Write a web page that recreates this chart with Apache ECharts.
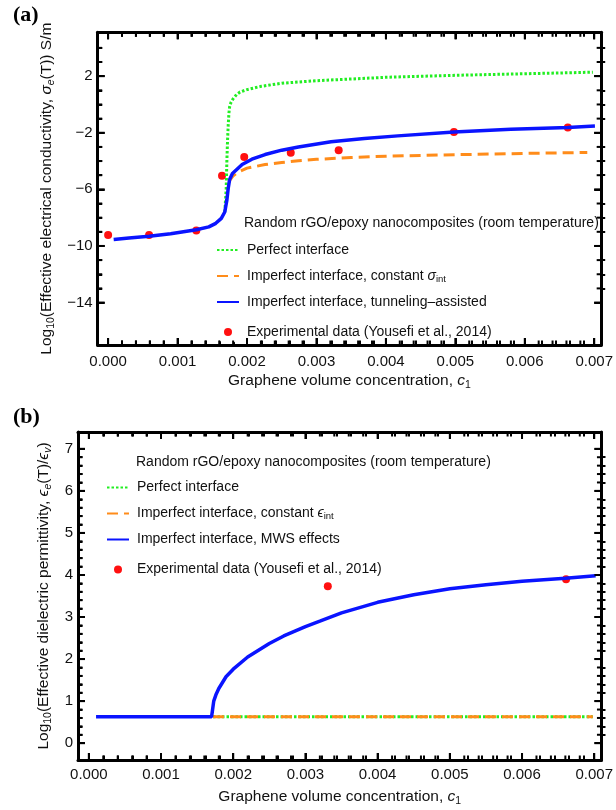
<!DOCTYPE html>
<html>
<head>
<meta charset="utf-8">
<script src="https://cdn.jsdelivr.net/npm/echarts@6/dist/echarts.min.js"></script>
<style>
html,body{margin:0;padding:0;background:#fff;}
#chart{width:616px;height:810px;}
</style>
</head>
<body>
<div id="chart"></div>
<script>
// ---------------- DATA ----------------
// Panel (a): log10 effective electrical conductivity vs graphene volume concentration
const aPerfectC   = [0.00168, 0.00170, 0.00171, 0.00172, 0.00173, 0.00174, 0.00175, 0.00177, 0.00180, 0.00185, 0.00190, 0.00200, 0.00220, 0.00250, 0.00300, 0.00350, 0.00400, 0.00500, 0.00600, 0.00698];
const aPerfectV   = [-7.6, -6.0, -4.0, -2.5, -1.4, -0.6, -0.15, 0.15, 0.4, 0.7, 0.88, 1.05, 1.28, 1.5, 1.68, 1.8, 1.92, 2.06, 2.17, 2.28];
const aConstC     = [0.00174, 0.00176, 0.00180, 0.00185, 0.00190, 0.00200, 0.00226, 0.00250, 0.00274, 0.00300, 0.00350, 0.00400, 0.00500, 0.00600, 0.00690];
const aConstV     = [-5.5, -5.3, -5.05, -4.85, -4.72, -4.5, -4.25, -4.1, -3.98, -3.88, -3.75, -3.66, -3.55, -3.46, -3.39];
const aTunnelC    = [0.00008, 0.00030, 0.00059, 0.00090, 0.00127, 0.00145, 0.00155, 0.00163, 0.00168, 0.00171, 0.00173, 0.00175, 0.00179, 0.00193, 0.00207, 0.00226, 0.00250, 0.00274, 0.00321, 0.00369, 0.00417, 0.00498, 0.00580, 0.00662, 0.00701];
const aTunnelV    = [-9.54, -9.43, -9.31, -9.13, -8.86, -8.65, -8.4, -8.05, -7.6, -6.76, -5.9, -5.3, -4.88, -4.24, -3.87, -3.54, -3.23, -3.0, -2.64, -2.4, -2.22, -1.94, -1.76, -1.63, -1.53];
const aExpC       = [0.00000, 0.00059, 0.00127, 0.00164, 0.00196, 0.00263, 0.00332, 0.00498, 0.00662];
const aExpV       = [-9.22, -9.22, -8.9, -5.04, -3.72, -3.42, -3.23, -1.94, -1.63];

// Panel (b): log10 effective dielectric permittivity vs graphene volume concentration
const bPerfectC   = [0.00172, 0.00698];
const bPerfectV   = [0.63, 0.63];
const bConstC     = [0.00172, 0.00698];
const bConstV     = [0.63, 0.63];
const bMwsC       = [0.00010, 0.00170, 0.00171, 0.00173, 0.00176, 0.00180, 0.00190, 0.00200, 0.00220, 0.00250, 0.00270, 0.00300, 0.00320, 0.00350, 0.00400, 0.00450, 0.00500, 0.00550, 0.00600, 0.00660, 0.00702];
const bMwsV       = [0.63, 0.63, 0.75, 1.0, 1.15, 1.3, 1.58, 1.76, 2.05, 2.37, 2.55, 2.77, 2.9, 3.1, 3.35, 3.53, 3.67, 3.77, 3.85, 3.92, 3.98];
const bExpC       = [0.00331, 0.00661];
const bExpV       = [3.73, 3.9];

// Tick labels
const xMajorTicks = [0, 0.001, 0.002, 0.003, 0.004, 0.005, 0.006, 0.007];
const aYMajorTicks = [-14, -10, -6, -2, 2];
const bYMajorTicks = [0, 1, 2, 3, 4, 5, 6, 7];

// ---------------- HELPERS ----------------
const F = '"Liberation Sans", Arial, Helvetica, sans-serif';
const TXT = '#111';
const zip = (xs, ys) => xs.map((x, i) => [x, ys[i]]);
const xMinorTicks = [];
for (let k = 1; k <= 34; k++) { if (k % 5 !== 0) xMinorTicks.push(+(k * 0.0002).toFixed(4)); }
const aYMinorTicks = [];
for (let v = -13; v <= 4; v++) { if (aYMajorTicks.indexOf(v) < 0) aYMinorTicks.push(v); }
const bYMinorTicks = [];
for (let k = 1; k <= 34; k++) { if (k % 5 !== 0) bYMinorTicks.push(+(k * 0.2).toFixed(1)); }

const richBase = {
  n: {fontFamily: F, fontSize: 15.5, color: TXT, lineHeight: 20},
  i: {fontFamily: F, fontSize: 15.5, color: TXT, fontStyle: 'italic', lineHeight: 20},
  s: {fontFamily: F, fontSize: 10.5, color: TXT, lineHeight: 11, verticalAlign: 'bottom'},
  si: {fontFamily: F, fontSize: 10.5, color: TXT, fontStyle: 'italic', lineHeight: 11, verticalAlign: 'bottom'}
};
const richLegend = {
  n: {fontFamily: F, fontSize: 14, color: TXT, lineHeight: 16},
  i: {fontFamily: F, fontSize: 14, color: TXT, fontStyle: 'italic', lineHeight: 16},
  s: {fontFamily: F, fontSize: 9.5, color: TXT, lineHeight: 9, verticalAlign: 'bottom'}
};

const X_MIN = -0.00015, X_MAX = 0.0071;
const A_YMIN = -17, A_YMAX = 5.1, B_YMIN = -0.4, B_YMAX = 7.4;
const MAJ_LEN = 7, MIN_LEN = 4.5;
const fmtY = v => (v < 0 ? '\u2212' + (-v) : String(v));
const mainLine = () => ({show: true, onZero: false, lineStyle: {color: '#000', width: 3}});
const hiddenLine = () => ({show: true, onZero: false, lineStyle: {color: '#000', width: 0, opacity: 0}});
const tick = (len, vals) => ({show: true, inside: true, length: len, lineStyle: {color: '#000', width: 2}, customValues: vals});

function xAxes(grid, major, minor, labelMargin, name, nameGap) {
  const common = {type: 'value', min: X_MIN, max: X_MAX, splitLine: {show: false}};
  return [
    Object.assign({}, common, {gridIndex: grid, position: 'bottom', axisLine: mainLine(), axisTick: tick(MAJ_LEN, major),
      axisLabel: {show: true, customValues: major, formatter: v => v.toFixed(3), fontFamily: F, fontSize: 15, color: TXT, margin: labelMargin},
      name: name, nameLocation: 'middle', nameGap: nameGap, nameTextStyle: {rich: richBase}}),
    Object.assign({}, common, {gridIndex: grid, position: 'top', axisLine: mainLine(), axisTick: tick(MAJ_LEN, major), axisLabel: {show: false}}),
    Object.assign({}, common, {gridIndex: grid + 1, position: 'bottom', axisLine: hiddenLine(), axisTick: tick(MIN_LEN, minor), axisLabel: {show: false}}),
    Object.assign({}, common, {gridIndex: grid + 1, position: 'top', axisLine: hiddenLine(), axisTick: tick(MIN_LEN, minor), axisLabel: {show: false}})
  ];
}
function yAxes(grid, ymin, ymax, major, minor, name, nameGap) {
  const common = {type: 'value', min: ymin, max: ymax, splitLine: {show: false}};
  return [
    Object.assign({}, common, {gridIndex: grid, position: 'left', axisLine: mainLine(), axisTick: tick(MAJ_LEN, major),
      axisLabel: {show: true, customValues: major, formatter: fmtY, fontFamily: F, fontSize: 15, color: TXT, margin: 5},
      name: name, nameLocation: 'middle', nameGap: nameGap, nameRotate: 90, nameTextStyle: {rich: richBase}}),
    Object.assign({}, common, {gridIndex: grid, position: 'right', axisLine: mainLine(), axisTick: tick(MAJ_LEN, major), axisLabel: {show: false}}),
    Object.assign({}, common, {gridIndex: grid + 1, position: 'left', axisLine: hiddenLine(), axisTick: tick(MIN_LEN, minor), axisLabel: {show: false}}),
    Object.assign({}, common, {gridIndex: grid + 1, position: 'right', axisLine: hiddenLine(), axisTick: tick(MIN_LEN, minor), axisLabel: {show: false}})
  ];
}

// Tick marks drawn through the axes' own scales (frame ticks on all four sides)
// item: [xValue, yValue, side(0 bottom,1 top,2 left,3 right), length]
function tickItems(xMaj, xMin, yMaj, yMin, xmin, ymin) {
  const d = [];
  xMaj.forEach(v => { d.push([v, ymin, 0, MAJ_LEN], [v, ymin, 1, MAJ_LEN]); });
  xMin.forEach(v => { d.push([v, ymin, 0, MIN_LEN], [v, ymin, 1, MIN_LEN]); });
  yMaj.forEach(v => { d.push([xmin, v, 2, MAJ_LEN], [xmin, v, 3, MAJ_LEN]); });
  yMin.forEach(v => { d.push([xmin, v, 2, MIN_LEN], [xmin, v, 3, MIN_LEN]); });
  return d;
}
function renderTick(params, api) {
  const cs = params.coordSys;
  const p = api.coord([api.value(0), api.value(1)]);
  const side = api.value(2), len = api.value(3);
  let s;
  if (side === 0) s = {x1: p[0], y1: cs.y + cs.height, x2: p[0], y2: cs.y + cs.height - len};
  else if (side === 1) s = {x1: p[0], y1: cs.y, x2: p[0], y2: cs.y + len};
  else if (side === 2) s = {x1: cs.x, y1: p[1], x2: cs.x + len, y2: p[1]};
  else s = {x1: cs.x + cs.width, y1: p[1], x2: cs.x + cs.width - len, y2: p[1]};
  return {type: 'line', shape: s, style: {stroke: '#000', lineWidth: 2}};
}
function tickSeries(xi, yi, data) {
  return {name: 'ticks' + xi, type: 'custom', xAxisIndex: xi, yAxisIndex: yi, data: data, renderItem: renderTick,
    encode: {x: 0, y: 1}, clip: false, silent: true, z: 8};
}

const GREEN = '#22ee22', ORANGE = '#ff8c1a', BLUE = '#0a14ff', RED = '#ff1010';
function lineSeries(name, xi, yi, data, color, type, width) {
  return {name: name, type: 'line', xAxisIndex: xi, yAxisIndex: yi, data: data, symbol: 'none',
    lineStyle: {color: color, width: width, type: type}, itemStyle: {color: color}};
}
function dotSeries(name, xi, yi, data) {
  return {name: name, type: 'scatter', xAxisIndex: xi, yAxisIndex: yi, data: data, symbol: 'circle', symbolSize: 8,
    itemStyle: {color: RED, opacity: 1}};
}

const legendNames = {
  a1: '{n|Perfect interface}',
  a2: '{n|Imperfect interface, constant }{i|\u03c3}{s|int}',
  a3: '{n|Imperfect interface, tunneling\u2013assisted}',
  a4: '{n|Experimental data (Yousefi et al., 2014)}',
  b1: '{n|Perfect interface}',
  b2: '{n|Imperfect interface, constant }{i|\u03f5}{s|int}',
  b3: '{n|Imperfect interface, MWS effects}',
  b4: '{n|Experimental data (Yousefi et al., 2014)}'
};
function legendCfg(prefix, left, top) {
  const hideSym = {opacity: 0};
  return {
    orient: 'vertical', left: left, top: top, itemWidth: 22, itemHeight: 16, itemGap: 10,
    selectedMode: false, padding: 0,
    data: [
      {name: prefix + '1', itemStyle: hideSym}, {name: prefix + '2', itemStyle: hideSym}, {name: prefix + '3', itemStyle: hideSym},
      {name: prefix + '4', icon: 'circle', itemStyle: {color: RED, opacity: 1, borderColor: '#fff', borderWidth: 8}}
    ],
    formatter: n => legendNames[n],
    textStyle: {fontFamily: F, fontSize: 14, color: TXT, padding: [0, 0, 0, 3], lineHeight: 16, rich: richLegend}
  };
}

const option = {
  animation: false,
  backgroundColor: '#fff',
  grid: [
    {left: 97.7, top: 32.3, width: 507.5, height: 312.7, show: false},
    {left: 97.7, top: 32.3, width: 507.5, height: 312.7, show: false},
    {left: 78, top: 432, width: 527.5, height: 328, show: false},
    {left: 78, top: 432, width: 527.5, height: 328, show: false}
  ],
  xAxis: [].concat(
    xAxes(0, xMajorTicks, xMinorTicks, 9, '{n|Graphene volume concentration, }{i|c}{s|1}', 26),
    xAxes(2, xMajorTicks, xMinorTicks, 7, '{n|Graphene volume concentration, }{i|c}{s|1}', 27)
  ),
  yAxis: [].concat(
    yAxes(0, A_YMIN, A_YMAX, aYMajorTicks, aYMinorTicks, '{n|Log}{s|10}{n|(Effective electrical conductivity, }{i|\u03c3}{si|e}{n|(T)) S/m}', 27),
    yAxes(2, B_YMIN, B_YMAX, bYMajorTicks, bYMinorTicks, '{n|Log}{s|10}{n|(Effective dielectric permittivity, }{i|\u03f5}{si|e}{n|(T)/}{i|\u03f5}{si|v}{n|)}', 12)
  ),
  legend: [legendCfg('a', 216, 242), legendCfg('b', 106, 479.5)],
  graphic: [
    {type: 'text', left: 13, top: 4, style: {text: '(a)', font: 'bold 22px "Liberation Serif", "Times New Roman", serif', fill: '#000'}},
    {type: 'text', left: 13, top: 406, style: {text: '(b)', font: 'bold 22px "Liberation Serif", "Times New Roman", serif', fill: '#000'}},
    {type: 'text', left: 244, top: 216, style: {text: 'Random rGO/epoxy nanocomposites (room temperature)', font: '14px ' + F, fill: TXT}},
    {type: 'text', left: 136, top: 455, style: {text: 'Random rGO/epoxy nanocomposites (room temperature)', font: '14px ' + F, fill: TXT}}
  ],
  series: [
    lineSeries('a1', 0, 0, zip(aPerfectC, aPerfectV), GREEN, [2.5, 2], 3),
    lineSeries('a2', 0, 0, zip(aConstC, aConstV), ORANGE, [11, 6], 3),
    lineSeries('a3', 0, 0, zip(aTunnelC, aTunnelV), BLUE, 'solid', 3.5),
    dotSeries('a4', 0, 0, zip(aExpC, aExpV)),
    lineSeries('b1', 4, 4, zip(bPerfectC, bPerfectV), GREEN, [2.5, 2], 3),
    lineSeries('b2', 4, 4, zip(bConstC, bConstV), ORANGE, [11, 6], 3),
    lineSeries('b3', 4, 4, zip(bMwsC, bMwsV), BLUE, 'solid', 3.5),
    dotSeries('b4', 4, 4, zip(bExpC, bExpV)),
    tickSeries(0, 0, tickItems(xMajorTicks, xMinorTicks, aYMajorTicks, aYMinorTicks, X_MIN, A_YMIN)),
    tickSeries(4, 4, tickItems(xMajorTicks, xMinorTicks, bYMajorTicks, bYMinorTicks, X_MIN, B_YMIN))
  ]
};

const chart = echarts.init(document.getElementById('chart'), null, {renderer: 'canvas'});
chart.setOption(option);
</script>
</body>
</html>
